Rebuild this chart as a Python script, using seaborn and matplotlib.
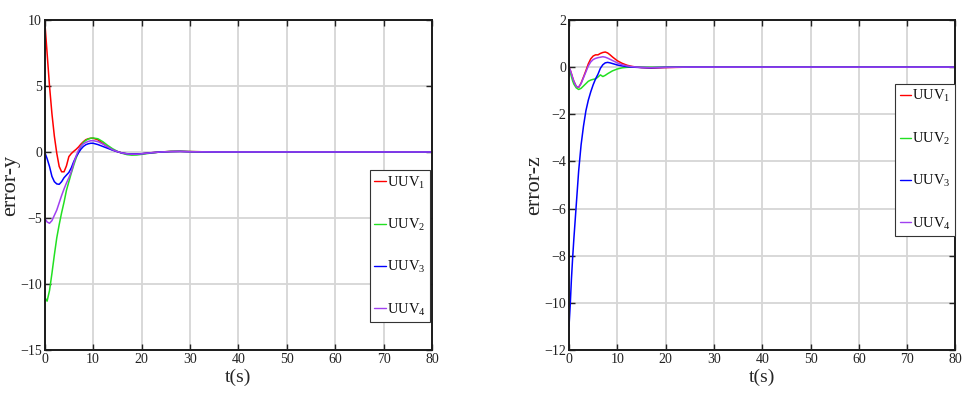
import matplotlib
matplotlib.use("Agg")
import matplotlib.pyplot as plt
import seaborn as sns
import pandas as pd

# Time samples (s) for the lateral tracking error
t_y = [0, 0.5, 1, 1.5, 2, 2.5, 3, 3.5, 4, 4.5, 5, 5.5, 6, 6.5, 7, 7.5, 8, 8.5, 9, 9.5,
       10, 11, 12, 13, 14, 15, 16, 17, 18, 19, 20, 22, 24, 26, 28, 30, 35, 40, 80]
ey_uuv1 = [10, 7.5, 5.0, 2.9, 1.2, -0.1, -1.1, -1.5, -1.5, -1.05, -0.35, -0.12, 0.05, 0.2,
           0.38, 0.6, 0.78, 0.93, 1.0, 1.04, 1.04, 0.92, 0.65, 0.38, 0.16, 0.03, -0.08,
           -0.15, -0.18, -0.17, -0.14, -0.06, 0.0, 0.04, 0.05, 0.03, 0.0, 0.0, 0.0]
ey_uuv2 = [-11.0, -11.3, -10.5, -9.2, -7.8, -6.5, -5.5, -4.6, -3.8, -2.9, -2.25, -1.6, -1.0,
           -0.45, 0.0, 0.45, 0.72, 0.88, 0.98, 1.04, 1.06, 1.0, 0.78, 0.5, 0.25, 0.05, -0.1,
           -0.2, -0.24, -0.23, -0.18, -0.08, 0.0, 0.04, 0.05, 0.03, 0.0, 0.0, 0.0]
ey_uuv3 = [0.0, -0.5, -1.1, -1.85, -2.25, -2.42, -2.45, -2.25, -1.95, -1.75, -1.55, -1.2,
           -0.73, -0.35, -0.05, 0.22, 0.42, 0.55, 0.62, 0.66, 0.66, 0.56, 0.42, 0.28, 0.14,
           0.02, -0.08, -0.13, -0.15, -0.15, -0.13, -0.06, 0.0, 0.03, 0.04, 0.02, 0.0, 0.0, 0.0]
ey_uuv4 = [-5.0, -5.3, -5.4, -5.2, -4.8, -4.4, -3.85, -3.3, -2.8, -2.35, -1.95, -1.5, -0.86,
           -0.3, 0.15, 0.45, 0.62, 0.72, 0.8, 0.85, 0.86, 0.78, 0.6, 0.38, 0.17, 0.03, -0.08,
           -0.14, -0.17, -0.17, -0.14, -0.06, 0.0, 0.03, 0.04, 0.02, 0.0, 0.0, 0.0]

# Time samples (s) for the depth tracking error
t_z = [0, 0.25, 0.5, 0.75, 1, 1.5, 2, 2.5, 3, 3.5, 4, 4.5, 5, 5.5, 6, 6.5, 7, 7.5, 8, 8.5,
       9, 10, 11, 12, 13, 14, 15, 17, 20, 25, 30, 40, 80]
ez_uuv1 = [0.0, -0.12, -0.28, -0.45, -0.6, -0.82, -0.86, -0.68, -0.42, -0.15, 0.14, 0.35,
           0.47, 0.52, 0.52, 0.58, 0.62, 0.64, 0.6, 0.52, 0.43, 0.27, 0.16, 0.08, 0.03, 0.0,
           -0.02, -0.04, -0.02, 0.0, 0.0, 0.0, 0.0]
ez_uuv2 = [0.0, -0.2, -0.4, -0.58, -0.72, -0.88, -0.95, -0.9, -0.8, -0.7, -0.6, -0.55,
           -0.52, -0.5, -0.42, -0.33, -0.4, -0.35, -0.28, -0.22, -0.16, -0.08, -0.03, -0.01,
           0.0, 0.0, 0.0, 0.0, 0.0, 0.0, 0.0, 0.0, 0.0]
ez_uuv3 = [-11.0, -10.1, -9.0, -8.1, -7.3, -5.85, -4.4, -3.3, -2.5, -1.85, -1.4, -1.05,
           -0.75, -0.5, -0.3, -0.05, 0.1, 0.18, 0.2, 0.18, 0.15, 0.09, 0.05, 0.02, 0.0,
           -0.01, -0.02, -0.03, -0.01, 0.0, 0.0, 0.0, 0.0]
ez_uuv4 = [0.0, -0.12, -0.28, -0.45, -0.6, -0.82, -0.85, -0.7, -0.45, -0.2, 0.05, 0.22,
           0.32, 0.37, 0.4, 0.42, 0.44, 0.42, 0.38, 0.33, 0.28, 0.18, 0.1, 0.05, 0.02, 0.0,
           -0.01, -0.02, -0.01, 0.0, 0.0, 0.0, 0.0]

series_names = ["UUV$_\\mathregular{1}$", "UUV$_\\mathregular{2}$",
                "UUV$_\\mathregular{3}$", "UUV$_\\mathregular{4}$"]
colors = ["#ff0000", "#22e022", "#0000ff", "#a040f0"]

x_ticks = list(range(0, 81, 10))
y_ticks_left = [-15, -10, -5, 0, 5, 10]
y_ticks_right = [-12, -10, -8, -6, -4, -2, 0, 2]

sns.set_theme(style="ticks")
plt.rcParams["font.family"] = ["Liberation Serif", "DejaVu Serif"]
plt.rcParams["mathtext.fontset"] = "stix"


def long_frame(t, columns):
    rows = []
    for name, vals in zip(series_names, columns):
        for ti, vi in zip(t, vals):
            rows.append({"t": ti, "e": vi, "UUV": name})
    return pd.DataFrame(rows)


df_y = long_frame(t_y, [ey_uuv1, ey_uuv2, ey_uuv3, ey_uuv4])
df_z = long_frame(t_z, [ez_uuv1, ez_uuv2, ez_uuv3, ez_uuv4])

fig = plt.figure(figsize=(9.71, 4.03), dpi=100)
ax1 = fig.add_axes([0.046, 0.1315, 0.399, 0.819])
ax2 = fig.add_axes([0.586, 0.1315, 0.398, 0.819])


def draw(ax, df, yticks, ylabel, legend_anchor):
    ax.grid(True, color="#d6d6d6", linewidth=1.3)
    ax.set_axisbelow(True)
    sns.lineplot(data=df, x="t", y="e", hue="UUV", palette=colors, estimator=None,
                 sort=False, linewidth=1.1, ax=ax)
    ax.set_xlim(0, 80)
    ax.set_ylim(yticks[0], yticks[-1])
    ax.set_xticks(x_ticks)
    ax.set_yticks(yticks)
    ax.set_xlabel("t(s)", fontsize=14, labelpad=2)
    ax.set_ylabel(ylabel, fontsize=16, labelpad=0)
    ax.tick_params(direction="in", top=True, right=True, length=4, width=1,
                   labelsize=10, pad=2, colors="#222222")
    for sp in ax.spines.values():
        sp.set_linewidth(1.4)
        sp.set_color("#1a1a1a")
    leg = ax.legend(loc="upper right", bbox_to_anchor=legend_anchor, fontsize=10.5,
                    frameon=True, fancybox=False, edgecolor="#333333", framealpha=1,
                    handlelength=0.8, handletextpad=0.05, borderpad=0.3,
                    borderaxespad=0, labelspacing=1.8, labelcolor="#111111")
    leg.get_frame().set_linewidth(0.8)
    for line in leg.get_lines():
        line.set_linewidth(1.0)


draw(ax1, df_y, y_ticks_left, "error-y", (0.995, 0.545))
draw(ax2, df_z, y_ticks_right, "error-z", (1.0, 0.806))

fig.savefig("out.png", dpi=100)
